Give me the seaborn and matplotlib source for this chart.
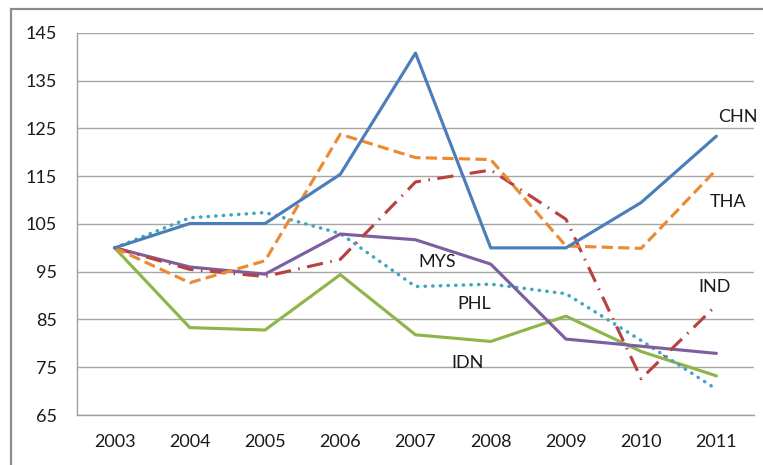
import matplotlib
matplotlib.use("Agg")
import matplotlib.pyplot as plt
from matplotlib.patches import Rectangle
import seaborn as sns
import numpy as np
import pandas as pd

years = ["2003", "2004", "2005", "2006", "2007", "2008", "2009", "2010", "2011"]
chn = [100, 105.1, 105.1, 115.4, 140.8, 100.0, 100.0, 109.5, 123.4]
tha = [100, 92.7, 97.3, 123.8, 118.9, 118.5, 100.4, 99.9, 116.4]
ind = [100, 95.5, 94.0, 97.6, 113.8, 116.3, 106.0, 72.6, 88.0]
mys = [100, 96.0, 94.5, 102.9, 101.7, 96.6, 80.9, 79.4, 77.9]
phl = [100, 106.3, 107.4, 103.0, 91.9, 92.4, 90.4, 80.6, 70.4]
idn = [100, 83.3, 82.8, 94.4, 81.8, 80.4, 85.7, 78.3, 73.2]

series = {"CHN": chn, "THA": tha, "IND": ind, "MYS": mys, "PHL": phl, "IDN": idn}
colors = {"CHN": "#4A7EBB", "THA": "#EC8A33", "IND": "#B8423F",
          "MYS": "#7D5FA0", "PHL": "#3FA6BF", "IDN": "#8EB548"}
styles = {"CHN": "-", "THA": (0, (3.6, 1.7)), "IND": (0, (5.2, 2.4, 0.5, 2.4)),
          "MYS": "-", "PHL": (0, (0.1, 2.1)), "IDN": "-"}
labels_pos = {"CHN": (8.29, 127.4), "THA": (8.16, 109.6), "IND": (7.97, 91.8),
              "MYS": (4.29, 97.0), "PHL": (4.78, 88.2), "IDN": (4.69, 75.9)}

sns.set_style("white")
plt.rcParams["font.family"] = ["Lato", "DejaVu Sans"]

fig = plt.figure(figsize=(7.63, 4.65), dpi=100)
ax = fig.add_axes([77 / 763, 1 - 415 / 465, (754 - 77) / 763, (415 - 33) / 465])

idx = np.arange(len(years))
order = ["IDN", "PHL", "MYS", "IND", "THA", "CHN"]
for name in order:
    df = pd.DataFrame({"x": idx, "y": series[name]})
    sns.lineplot(data=df, x="x", y="y", ax=ax, color=colors[name], linewidth=2.25,
                 estimator=None, sort=False)
    line = ax.lines[-1]
    line.set_linestyle(styles[name])
    if name == "PHL":
        line.set_dash_capstyle("round")
        line.set_linewidth(2.5)

for name, (x, y) in labels_pos.items():
    ax.text(x, y, name, ha="center", va="center", fontsize=13, color="#1A1A1A")

ax.set_xlim(-0.5, len(years) - 0.5)
ax.set_ylim(65, 145)
ax.set_yticks(np.arange(65, 146, 10))
ax.set_yticklabels([str(v) for v in range(65, 146, 10)])
ax.set_xticks(idx)
ax.set_xticklabels(years)
ax.set_xticks(np.arange(-0.5, len(years), 1), minor=True)
ax.tick_params(axis="x", which="major", length=0, pad=14, labelsize=13, labelcolor="#1A1A1A")
ax.tick_params(axis="x", which="minor", length=5.8, width=0.8, color="#A0A0A0", direction="out")
ax.tick_params(axis="y", which="major", length=5.8, width=0.8, color="#A0A0A0", direction="out",
               pad=8.5, labelsize=13, labelcolor="#1A1A1A")
ax.set_xlabel("")
ax.set_ylabel("")
ax.grid(axis="y", color="#A6A6A6", linewidth=1.0)
ax.set_axisbelow(True)
for side in ["top", "right"]:
    ax.spines[side].set_visible(False)
for side in ["left", "bottom"]:
    ax.spines[side].set_visible(True)
    ax.spines[side].set_color("#A0A0A0")
    ax.spines[side].set_linewidth(1.0)

frame = Rectangle((11 / 763, -0.1), 1.2, 1 - 9 / 465 + 0.1, transform=fig.transFigure,
                  fill=False, edgecolor="#8C8C8C", linewidth=1.6, zorder=10)
fig.patches.append(frame)

fig.savefig("out.png", dpi=100)
